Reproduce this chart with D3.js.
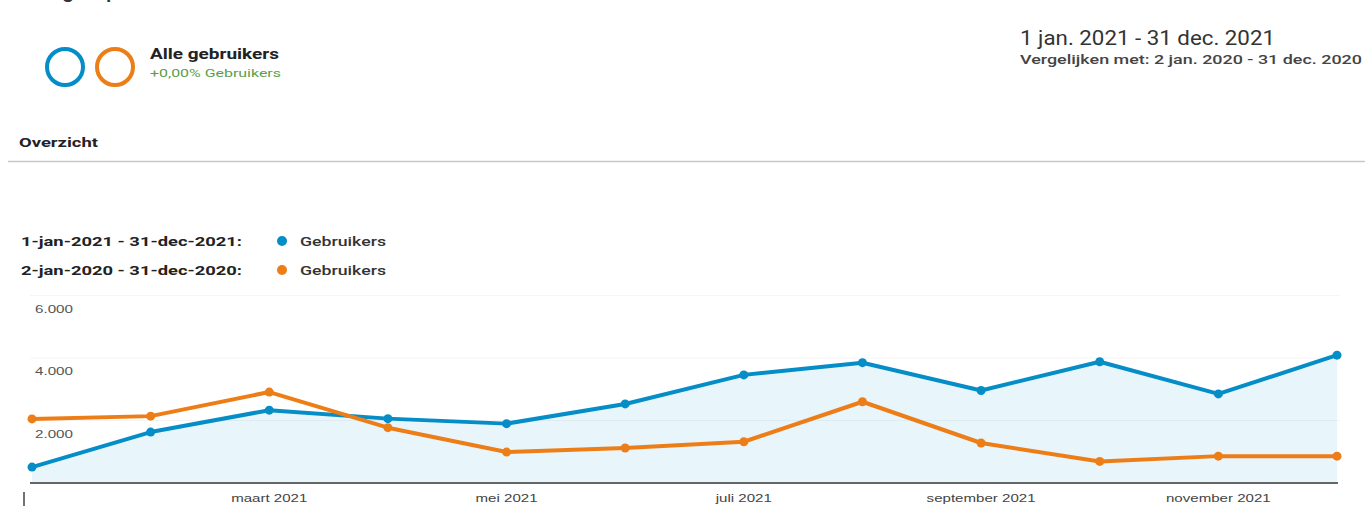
<!DOCTYPE html>
<html>
<head>
<meta charset="utf-8">
<script src="https://cdn.jsdelivr.net/npm/d3@7"></script>
<style>
  html, body { margin: 0; padding: 0; background: #fff; }
  svg { display: block; }
</style>
</head>
<body>
<div id="chart"></div>
<script>
// Data (users per month)
const months = ['jan', 'feb', 'mrt', 'apr', 'mei', 'jun', 'jul', 'aug', 'sep', 'okt', 'nov', 'dec'];
const users2021 = [510, 1630, 2330, 2060, 1900, 2530, 3460, 3850, 2960, 3880, 2850, 4090];
const users2020 = [2050, 2140, 2910, 1770, 990, 1120, 1320, 2600, 1280, 690, 860, 860];
const yTicks = [2000, 4000, 6000];
const xTickLabels = [
  { month: 'mrt', label: 'maart 2021' },
  { month: 'mei', label: 'mei 2021' },
  { month: 'jul', label: 'juli 2021' },
  { month: 'sep', label: 'september 2021' },
  { month: 'nov', label: 'november 2021' }
];

const width = 1365, height = 506;
const blue = '#058dc7', orange = '#ed7e17';
const stretch = 1.37; // the screenshot is wider than it is tall

const svg = d3.select('#chart')
  .append('svg')
  .attr('width', width)
  .attr('height', height);

// stretch a text to a given width
function fit(sel, w) {
  sel.attr('textLength', w).attr('lengthAdjust', 'spacingAndGlyphs');
}

function label(x, y, str, size, weight, color, w, family) {
  const t = svg.append('text')
    .attr('x', x).attr('y', y)
    .attr('font-family', family || 'Roboto, sans-serif')
    .attr('font-weight', weight)
    .attr('font-size', size)
    .attr('fill', color)
    .text(str);
  if (w) fit(t, w);
  return t;
}

// Header
label(18, -3, 'Doelgroepoverzicht', 22, 500, '#333', 190);

svg.append('circle').attr('cx', 65).attr('cy', 67).attr('r', 18)
  .attr('fill', 'none').attr('stroke', blue).attr('stroke-width', 4);
svg.append('circle').attr('cx', 115).attr('cy', 67).attr('r', 18)
  .attr('fill', 'none').attr('stroke', orange).attr('stroke-width', 4);

label(150, 59, 'Alle gebruikers', 14, 700, '#222', 129);
label(150, 77, '+0,00% Gebruikers', 10, 400, '#5a9e4b', 131);

label(1020, 45, '1 jan. 2021 - 31 dec. 2021', 20, 400, '#333', 255);
label(1020, 64, 'Vergelijken met: 2 jan. 2020 - 31 dec. 2020', 13, 500, '#444', 342);

label(19, 147, 'Overzicht', 12, 700, '#222', 79);

svg.append('line')
  .attr('x1', 8).attr('x2', width)
  .attr('y1', 161.5).attr('y2', 161.5)
  .attr('stroke', '#c8c8c8').attr('stroke-width', 1.5);

// Legend
const legend = [
  { range: '1-jan-2021 - 31-dec-2021:', color: blue },
  { range: '2-jan-2020 - 31-dec-2020:', color: orange }
];
const lg = svg.selectAll('g.legend')
  .data(legend)
  .enter()
  .append('g')
  .attr('class', 'legend')
  .attr('transform', (d, i) => `translate(0, ${241 + i * 29})`);
lg.append('text')
  .attr('x', 21).attr('y', 5)
  .attr('font-family', 'Roboto, sans-serif')
  .attr('font-weight', 700)
  .attr('font-size', 13)
  .attr('fill', '#222')
  .text(d => d.range)
  .call(fit, 221);
lg.append('circle')
  .attr('cx', 282).attr('cy', 0).attr('r', 5)
  .attr('fill', d => d.color);
lg.append('text')
  .attr('x', 300).attr('y', 5)
  .attr('font-family', 'Roboto, sans-serif')
  .attr('font-weight', 500)
  .attr('font-size', 13)
  .attr('fill', '#333')
  .text('Gebruikers')
  .call(fit, 86);

// Scales
const x = d3.scalePoint()
  .domain(months)
  .range([32, 1337]);

const y = d3.scaleLinear()
  .domain([0, 6000])
  .range([483, 295.5]);

// Grid lines (very faint)
svg.selectAll('line.grid')
  .data(yTicks)
  .enter()
  .append('line')
  .attr('class', 'grid')
  .attr('x1', 30).attr('x2', 1340)
  .attr('y1', d => y(d)).attr('y2', d => y(d))
  .attr('stroke', '#f5f5f5');

// Area under 2021
const area = d3.area()
  .x((d, i) => x(months[i]))
  .y0(y(0))
  .y1(d => y(d));
svg.append('path')
  .datum(users2021)
  .attr('d', area)
  .attr('fill', blue)
  .attr('fill-opacity', 0.09);

// Lines
const line = d3.line()
  .x((d, i) => x(months[i]))
  .y(d => y(d));

[[users2021, blue], [users2020, orange]].forEach(([values, color]) => {
  svg.append('path')
    .datum(values)
    .attr('d', line)
    .attr('fill', 'none')
    .attr('stroke', color)
    .attr('stroke-width', 4)
    .attr('stroke-linejoin', 'round');
  svg.append('g')
    .selectAll('circle')
    .data(values)
    .enter()
    .append('circle')
    .attr('cx', (d, i) => x(months[i]))
    .attr('cy', d => y(d))
    .attr('r', 4.5)
    .attr('fill', color);
});

// Y labels sit just under their grid line
svg.selectAll('text.ytick')
  .data(yTicks)
  .enter()
  .append('text')
  .attr('class', 'ytick')
  .attr('x', 35)
  .attr('y', d => y(d) + 17)
  .attr('font-family', 'Liberation Sans, Arial, sans-serif')
  .attr('font-size', 11)
  .attr('fill', '#555')
  .text(d => d3.format(',')(d).replace(',', '.'))
  .call(fit, 38);

// X axis baseline
svg.append('line')
  .attr('x1', 30).attr('x2', 1338)
  .attr('y1', y(0)).attr('y2', y(0))
  .attr('stroke', '#666').attr('stroke-width', 2);

svg.append('line')
  .attr('x1', 24).attr('x2', 24)
  .attr('y1', 492).attr('y2', 506)
  .attr('stroke', '#444').attr('stroke-width', 1.5);

svg.selectAll('text.xtick')
  .data(xTickLabels)
  .enter()
  .append('text')
  .attr('class', 'xtick')
  .attr('x', d => x(d.month))
  .attr('y', 502)
  .attr('text-anchor', 'middle')
  .attr('font-family', 'Liberation Sans, Arial, sans-serif')
  .attr('font-size', 11)
  .attr('fill', '#444')
  .text(d => d.label)
  .each(function () {
    fit(d3.select(this), this.getComputedTextLength() * stretch);
  });
</script>
</body>
</html>
